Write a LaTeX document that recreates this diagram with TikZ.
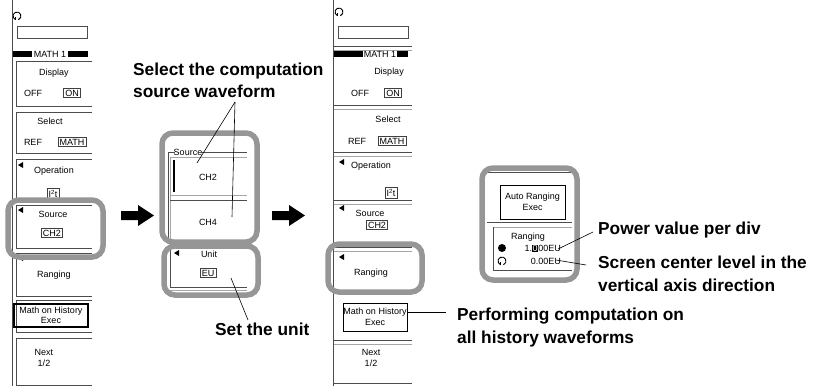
\documentclass[tikz,border=0pt]{standalone}
\usepackage{fontspec}
\setmainfont{Liberation Sans}
\definecolor{hlgray}{RGB}{150,150,150}

\begin{document}
\begin{tikzpicture}[x=1pt,y=-1pt,
    ui/.style={font=\fontsize{9}{10.5}\selectfont, inner sep=0pt},
    uibox/.style={ui, draw=black!75, line width=0.6pt, inner sep=1.6pt},
    lbl/.style={font=\fontsize{17.3}{20}\selectfont\bfseries, inner sep=0pt, anchor=base west},
    hl/.style={draw=hlgray, line width=5.5pt, rounded corners=11pt},
    pnl/.style={draw=black!70, line width=0.7pt},
    pnllt/.style={draw=black!35, line width=0.6pt},
    ptr/.style={draw=black, line width=0.6pt}]
  \useasboundingbox (0,0) rectangle (816,386);

  % knob icons
  \foreach \kx/\ky in {17/16, 339/12, 502/261}
  { \draw[line width=0.9pt] (\kx,\ky) ++(110:4) arc (110:430:4);
    \draw[line width=0.9pt] (\kx,\ky) ++(110:4) -- ++(0,-2.8);
  }

  % ---- first menu
  \draw[pnl] (12,0) -- (12,386);
  \draw[pnl] (17,26) rectangle (87,38);
  \fill (13,51) rectangle (32,57);
  \fill (68,51) rectangle (88,57);
  \node[ui] (mhead) at (50,54) {MATH 1};
  \foreach \ta/\tb in {61/106,112/153,159/200,205/248,253/296,300/332,338/385}
    \draw[pnl] (92,\ta) -- (16,\ta) -- (16,\tb) -- (92,\tb);
  \foreach \ty in {165,210,258}
    \fill (18,\ty) -- (23,\ty-3) -- (23,\ty+3) -- cycle;
  \node[ui] (mdisp) at (54,73) {Display};
  \node[ui] (moff) at (33,93) {OFF};
  \node[uibox] (mon) at (72,93) {ON};
  \node[ui] (msel) at (50,121) {Select};
  \node[ui] (mref) at (33,142) {REF};
  \node[uibox] (mmath) at (72,142) {MATH};
  \node[ui] (mop) at (54,171) {Operation};
  \node[uibox] (mit) at (53,194) {I\textsuperscript{2}t};
  \node[ui] (msrc) at (53,214) {Source};
  \node[uibox] (mch) at (52,233) {CH2};
  \node[ui] (mrng) at (54,275) {Ranging};
  \node[ui, draw, line width=1.2pt, minimum width=74pt, minimum height=23pt,
        align=center] (mhist) at (51,315.5) {Math on History\\Exec};
  \node[ui, align=center] (mnext) at (44,358) {Next\\1/2};
  \draw[hl] (8,200) rectangle (103,257);

  % block arrows
  \foreach \ax in {121,272}
    \fill (\ax,211) -- (\ax+17,211) -- (\ax+17,205) -- (\ax+33,215.5)
          -- (\ax+17,226) -- (\ax+17,220) -- (\ax,220) -- cycle;

  % ---- source submenu
  \draw[pnl] (168,152) -- (175,152);
  \node[ui] (srctitle) at (188,152) {Source};
  \draw[pnl] (201,152) -- (247,152);
  \draw[pnllt] (170,157) -- (247,157);
  \draw[pnl] (168,152) -- (168,243);
  \draw[pnllt] (170,157) -- (170,242);
  \draw[pnllt] (170,195) -- (247,195);
  \draw[pnl] (170,200) -- (247,200);
  \draw[line width=2pt] (174,160) -- (174,192);
  \node[ui] (sch2) at (208,177) {CH2};
  \node[ui] (sch4) at (208,222) {CH4};
  \draw[hl] (162,133) rectangle (257,242);

  \fill (174,253) -- (179,250) -- (179,256) -- cycle;
  \node[ui] (sunit) at (209,254) {Unit};
  \node[uibox] (seu) at (208,273) {EU};
  \draw[pnl] (170,248) -- (170,287) -- (247,287);
  \draw[pnllt] (170,290) -- (247,290);
  \draw[hl] (164,246) rectangle (258,295);

  \node[lbl] (selA) at (133,75) {Select the computation};
  \node[lbl] (selB) at (133,97) {source waveform};
  \coordinate (selpt) at (235,102);
  \coordinate (ch2pt) at (197,163);
  \coordinate (ch4pt) at (232,217);
  \draw[ptr] (selpt) -- (ch2pt);
  \draw[ptr] (selpt) -- (ch4pt);
  \node[lbl] (setunit) at (215,335) {Set the unit};
  \coordinate (eupt) at (231,278);
  \coordinate (setpt) at (248,320);
  \draw[ptr] (eupt) -- (setpt);

  % ---- second menu
  \draw[pnl] (333,0) -- (333,386);
  \draw[pnl] (338,26) rectangle (408,38);
  \foreach \ty in {46,105,152,200,247,340}
  { \draw[pnl] (334,\ty) -- (412,\ty);
    \draw[pnllt] (334,\ty+4) -- (412,\ty+4);
  }
  \draw[pnl] (334,383) -- (412,383);
  \fill (334,51) rectangle (363,57);
  \fill (397,51) rectangle (408,57);
  \node[ui] (nhead) at (380,54) {MATH 1};
  \foreach \ty in {162,208,257}
    \fill (339,\ty) -- (344,\ty-3) -- (344,\ty+3) -- cycle;
  \node[ui] (ndisp) at (389,72) {Display};
  \node[ui] (noff) at (360,93) {OFF};
  \node[uibox] (non) at (393,93) {ON};
  \node[ui] (nsel) at (388,119) {Select};
  \node[ui] (nref) at (357,141) {REF};
  \node[uibox] (nmath) at (392,141) {MATH};
  \node[ui] (nop) at (371,166) {Operation};
  \node[uibox] (nit) at (391,193) {I\textsuperscript{2}t};
  \node[ui] (nsrc) at (370,213) {Source};
  \node[uibox] (nch) at (377,225) {CH2};
  \node[ui] (nrng) at (371,273) {Ranging};
  \node[ui, draw, line width=0.7pt, minimum width=64pt, minimum height=28pt,
        align=center] (nhist) at (375,317) {Math on History\\Exec};
  \node[ui, align=center] (nnext) at (371,358) {Next\\1/2};
  \draw[hl] (328,244) rectangle (422,292);

  \coordinate (histpt) at (446,312);
  \draw[ptr] (nhist.east |- histpt) -- (histpt);
  \node[lbl] (perfA) at (457,320) {Performing computation on};
  \node[lbl] (perfB) at (457,343) {all history waveforms};

  % ---- ranging panel
  \draw[pnl] (487,172) -- (572,172);
  \node[ui, draw, line width=0.7pt, minimum width=65pt, minimum height=34pt,
        align=center] (arexec) at (532.5,202) {Auto Ranging\\Exec};
  \draw[pnl] (487,222) -- (572,222);
  \draw[pnllt] (493,227) -- (572,227);
  \draw[pnl] (493,227) -- (493,270) -- (572,270);
  \node[ui] (rtitle) at (528,237) {Ranging};
  \fill (502,248) circle (4);
  \node[ui, anchor=base east] (rdiv) at (561,251.5)
    {1.{\setlength{\fboxsep}{0.6pt}\colorbox{black}{\textcolor{white}{0}}}00EU};
  \node[ui, anchor=base east] (rlev) at (561,264.5) {0.00EU};
  \draw[hl] (482,168) rectangle (577,280);

  \coordinate (divpt) at (558,249);
  \coordinate (powpt) at (593,232);
  \draw[ptr] (divpt) -- (powpt);
  \node[lbl] (power) at (598,234) {Power value per div};
  \coordinate (levpt) at (556,260);
  \coordinate (scrpt) at (586,265);
  \draw[ptr] (levpt) -- (scrpt);
  \node[lbl] (scrA) at (598,268) {Screen center level in the};
  \node[lbl] (scrB) at (598,291) {vertical axis direction};
\end{tikzpicture}
\end{document}
